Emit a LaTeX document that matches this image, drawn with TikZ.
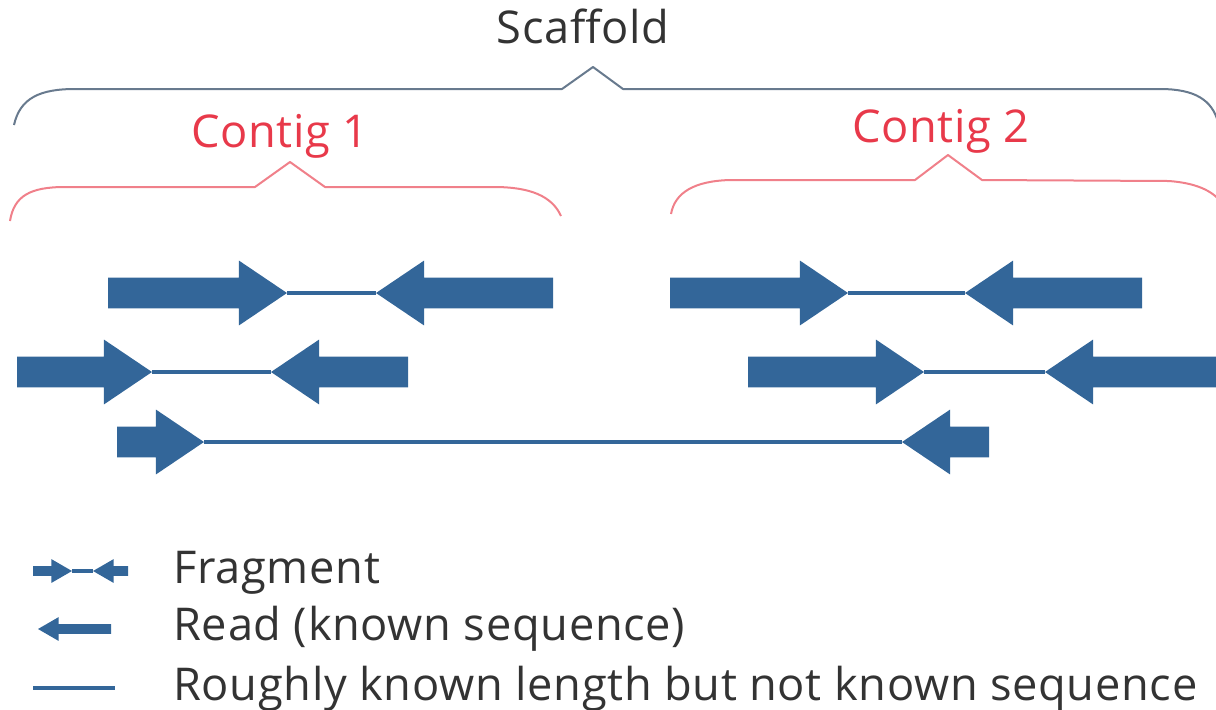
\documentclass[tikz,border=0pt]{standalone}
\usepackage{fontspec}
\setmainfont{Open Sans}[LetterSpace=1.5]
\usetikzlibrary{shapes.arrows}
\definecolor{seqblue}{RGB}{51,102,153}
\definecolor{contigred}{RGB}{232,57,74}
\definecolor{contigline}{RGB}{240,128,138}
\definecolor{scaffoldline}{RGB}{104,122,142}
\definecolor{labelgray}{RGB}{51,51,51}

\begin{document}
\begin{tikzpicture}[x=0.5pt,y=-0.5pt,
  readarrow/.style={single arrow,fill=seqblue,draw=none,inner xsep=0pt,inner ysep=7.5pt,
    single arrow head extend=8.5pt,single arrow tip angle=68,minimum width=0pt,
    outer sep=0pt,anchor=tail},
  readleft/.style={readarrow,shape border rotate=180},
  keyread/.style={readarrow,inner ysep=2.25pt,single arrow head extend=3.5pt,single arrow tip angle=60},
  keyleft/.style={keyread,shape border rotate=180},
  len/.style={minimum height=#1*0.5pt},
  gapline/.style={seqblue,line width=2.4pt},
  label/.style={inner sep=0pt,font=\fontsize{22.6}{26}\selectfont},
  brace/.style={line width=1pt,line join=round}]
\useasboundingbox (0,0) rectangle (1216,709);

% scaffold and contigs
\node (scaffold) at (583,43) [label,anchor=base,text=labelgray] {Scaffold};
\draw[brace,scaffoldline] (14,125) .. controls (20,98) and (40,89) .. (75,89) -- (562,89)
  -- (593,67) -- (623,89) -- (1160,89) .. controls (1195,89) and (1212,100) .. (1218,122);
\node (contig1) at (280,147) [label,anchor=base,text=contigred] {Contig 1};
\draw[brace,contigline] (10,221) .. controls (14,196) and (30,187) .. (65,187) -- (255,187)
  -- (290,162) -- (325,187) -- (494,187) .. controls (530,187) and (552,196) .. (561,216);
\node (contig2) at (941,142) [label,anchor=base,text=contigred] {Contig 2};
\draw[brace,contigline] (671,214) .. controls (675,192) and (695,181) .. (730,180) -- (915,180)
  -- (948,155) -- (982,180) -- (1169,181) .. controls (1195,183) and (1212,190) .. (1222,203);

% fragments
\node (r1) at (108,293) [readarrow,len=179] {};
\node (r2) at (553,293) [readleft,len=177] {};
\node (r3) at (670,293) [readarrow,len=178] {};
\node (r4) at (1142,293) [readleft,len=177] {};
\node (r5) at (17,372) [readarrow,len=135] {};
\node (r6) at (408,372) [readleft,len=137] {};
\node (r7) at (748,372) [readarrow,len=176] {};
\node (r8) at (1222,372) [readleft,len=177] {};
\node (r9) at (117,442) [readarrow,len=87] {};
\node (r10) at (989,442) [readleft,len=87] {};
\draw[gapline] (r1.tip) -- (r2.tip);
\draw[gapline] (r3.tip) -- (r4.tip);
\draw[gapline] (r5.tip) -- (r6.tip);
\draw[gapline] (r7.tip) -- (r8.tip);
\draw[gapline] (r9.tip) -- (r10.tip);

% legend
\node (k1) at (33,571) [keyread,len=39] {};
\node (k2) at (128,571) [keyleft,len=35] {};
\draw[gapline] (k1.tip) -- (k2.tip);
\node (k3) at (111,629) [keyleft,len=73] {};
\coordinate (k4) at (33,688);
\coordinate (k5) at (115,688);
\draw[gapline] (k4) -- (k5);
\node (fragment) at (173,583) [label,anchor=base west,text=labelgray] {Fragment};
\node (read) at (173,640) [label,anchor=base west,text=labelgray] {Read (known sequence)};
\node (rough) at (173,700) [label,anchor=base west,text=labelgray] {Roughly known length but not known sequence};
\end{tikzpicture}
\end{document}
